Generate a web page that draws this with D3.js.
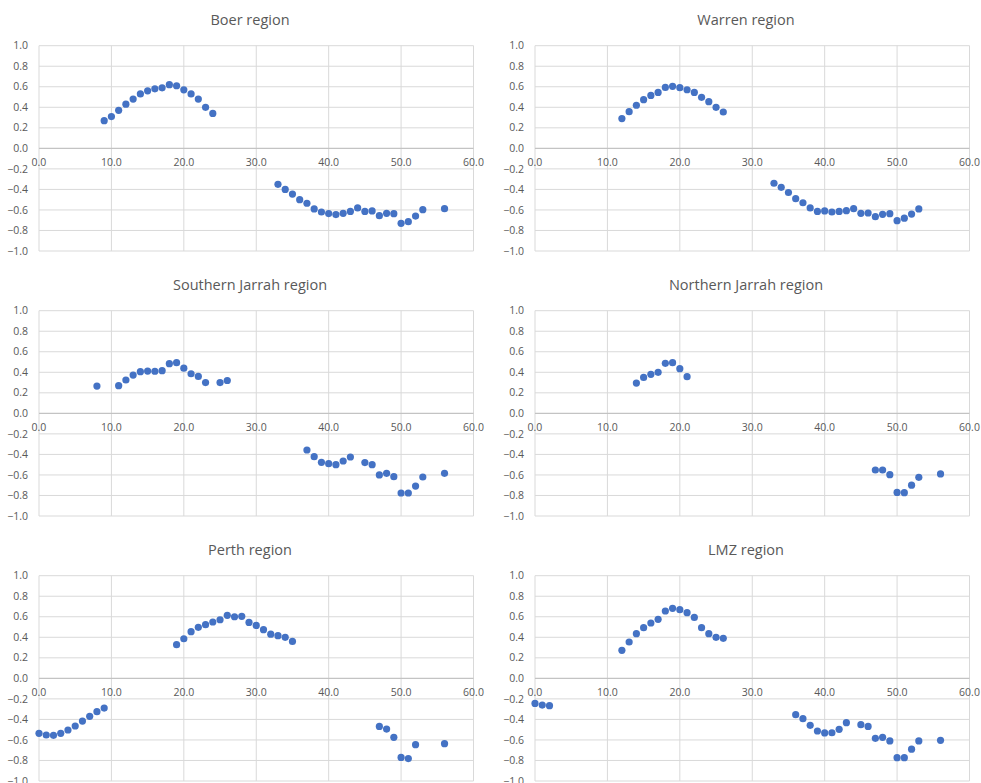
<!DOCTYPE html>
<html>
<head>
<meta charset="utf-8">
<script src="https://cdn.jsdelivr.net/npm/d3@7"></script>
<style>
  html, body { margin: 0; padding: 0; background: #ffffff; }
  svg { display: block; }
  text { font-family: "Open Sans", "Liberation Sans", sans-serif; fill: #595959; }
</style>
</head>
<body>
<svg id="chart" width="981" height="783"></svg>
<script>
// Region titles
const regionTitles = ["Boer region", "Warren region", "Southern Jarrah region",
                      "Northern Jarrah region", "Perth region", "LMZ region"];

// Axis ticks
const xTicks = [0, 10, 20, 30, 40, 50, 60];
const yTicks = [1.0, 0.8, 0.6, 0.4, 0.2, 0.0, -0.2, -0.4, -0.6, -0.8, -1.0];

// Boer region
const boerX = [9,10,11,12,13,14,15,16,17,18,19,20,21,22,23,24,
               33,34,35,36,37,38,39,40,41,42,43,44,45,46,47,48,49,50,51,52,53,56];
const boerY = [0.27,0.31,0.37,0.43,0.48,0.53,0.56,0.58,0.59,0.62,0.61,0.57,0.53,0.48,0.40,0.34,
               -0.35,-0.40,-0.445,-0.50,-0.535,-0.59,-0.62,-0.635,-0.645,-0.633,-0.614,-0.58,-0.614,-0.61,-0.656,-0.633,-0.636,-0.73,-0.714,-0.66,-0.597,-0.588];

// Warren region
const warrenX = [12,13,14,15,16,17,18,19,20,21,22,23,24,25,26,
                 33,34,35,36,37,38,39,40,41,42,43,44,45,46,47,48,49,50,51,52,53];
const warrenY = [0.29,0.357,0.42,0.474,0.516,0.545,0.594,0.604,0.591,0.571,0.545,0.497,0.455,0.40,0.354,
                 -0.34,-0.38,-0.43,-0.49,-0.53,-0.58,-0.614,-0.61,-0.62,-0.614,-0.607,-0.588,-0.633,-0.63,-0.666,-0.643,-0.636,-0.705,-0.68,-0.64,-0.59];

// Southern Jarrah region
const southJarrahX = [8,11,12,13,14,15,16,17,18,19,20,21,22,23,25,26,
                      37,38,39,40,41,42,43,45,46,47,48,49,50,51,52,53,56];
const southJarrahY = [0.266,0.27,0.325,0.373,0.406,0.412,0.41,0.416,0.484,0.494,0.44,0.386,0.36,0.30,0.30,0.32,
                      -0.357,-0.422,-0.477,-0.49,-0.50,-0.464,-0.425,-0.48,-0.50,-0.60,-0.584,-0.617,-0.776,-0.776,-0.708,-0.62,-0.584];

// Northern Jarrah region
const northJarrahX = [14,15,16,17,18,19,20,21,
                      47,48,49,50,51,52,53,56];
const northJarrahY = [0.295,0.35,0.38,0.40,0.487,0.494,0.435,0.357,
                      -0.552,-0.552,-0.597,-0.77,-0.773,-0.70,-0.623,-0.59];

// Perth region
const perthX = [0,1,2,3,4,5,6,7,8,9,
                19,20,21,22,23,24,25,26,27,28,29,30,31,32,33,34,35,
                47,48,49,50,51,52,56];
const perthY = [-0.536,-0.552,-0.555,-0.536,-0.503,-0.464,-0.416,-0.37,-0.325,-0.29,
                0.328,0.386,0.455,0.497,0.523,0.549,0.571,0.614,0.60,0.604,0.545,0.516,0.474,0.43,0.416,0.40,0.36,
                -0.468,-0.494,-0.575,-0.77,-0.782,-0.646,-0.636];

// LMZ region
const lmzX = [0,1,2,
              12,13,14,15,16,17,18,19,20,21,22,23,24,25,26,
              36,37,38,39,40,41,42,43,45,46,47,48,49,50,51,52,53,56];
const lmzY = [-0.244,-0.26,-0.266,
              0.273,0.354,0.435,0.494,0.539,0.575,0.656,0.682,0.669,0.64,0.594,0.494,0.435,0.40,0.39,
              -0.354,-0.393,-0.458,-0.513,-0.532,-0.53,-0.497,-0.432,-0.451,-0.468,-0.584,-0.575,-0.61,-0.773,-0.773,-0.69,-0.61,-0.604];

const seriesX = [boerX, warrenX, southJarrahX, northJarrahX, perthX, lmzX];
const seriesY = [boerY, warrenY, southJarrahY, northJarrahY, perthY, lmzY];

// Layout of the 3x2 grid of panels
const colPlotLeft = [39, 535];
const plotWidth = 434.5;
const rowPlotTop = [45.7, 310.7, 575.7];
const plotHeight = 205.3;
const colTitleX = [250, 746];

const svg = d3.select("#chart");

regionTitles.forEach((title, i) => {
  const col = i % 2, row = Math.floor(i / 2);
  const left = colPlotLeft[col], top = rowPlotTop[row];

  const x = d3.scaleLinear().domain([0, 60]).range([left, left + plotWidth]);
  const y = d3.scaleLinear().domain([-1, 1]).range([top + plotHeight, top]);

  const g = svg.append("g");

  // Title
  g.append("text")
    .attr("x", colTitleX[col])
    .attr("y", top - 21)
    .attr("text-anchor", "middle")
    .style("font-size", "14.5px")
    .text(title);

  // Horizontal gridlines
  g.append("g").selectAll("line").data(yTicks).join("line")
    .attr("x1", x(0)).attr("x2", x(60))
    .attr("y1", d => y(d)).attr("y2", d => y(d))
    .attr("stroke", "#d9d9d9").attr("stroke-width", 1);

  // Vertical gridlines
  g.append("g").selectAll("line").data(xTicks).join("line")
    .attr("x1", d => x(d)).attr("x2", d => x(d))
    .attr("y1", y(1)).attr("y2", y(-1))
    .attr("stroke", "#d9d9d9").attr("stroke-width", 1);

  // Horizontal axis at zero
  g.append("line")
    .attr("x1", x(0)).attr("x2", x(60))
    .attr("y1", y(0)).attr("y2", y(0))
    .attr("stroke", "#bfbfbf").attr("stroke-width", 1);

  // Y tick labels
  g.append("g").selectAll("text").data(yTicks).join("text")
    .attr("x", left - 11)
    .attr("y", d => y(d))
    .attr("dy", "0.35em")
    .attr("text-anchor", "end")
    .style("font-size", "10.5px")
    .text(d => d3.format(".1f")(d));

  // X tick labels along the zero line
  g.append("g").selectAll("text").data(xTicks).join("text")
    .attr("x", d => x(d))
    .attr("y", y(0) + 18)
    .attr("text-anchor", "middle")
    .style("font-size", "10.5px")
    .text(d => d3.format(".1f")(d));

  // Points
  const pts = seriesX[i].map((v, k) => [v, seriesY[i][k]]);
  g.append("g").selectAll("circle").data(pts).join("circle")
    .attr("cx", d => x(d[0]))
    .attr("cy", d => y(d[1]))
    .attr("r", 3.6)
    .attr("fill", "#4472c4");
});
</script>
</body>
</html>
